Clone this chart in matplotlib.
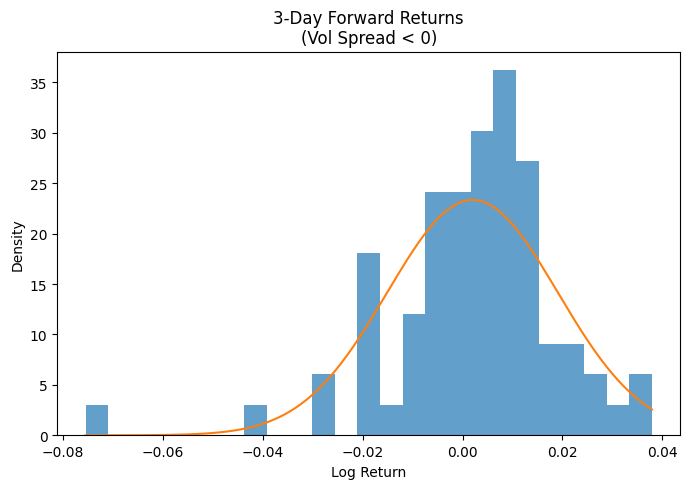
import numpy as np
import matplotlib
matplotlib.use("Agg")
import matplotlib.pyplot as plt

# Histogram bin range and counts (25 equal bins)
bin_low = -0.07546
bin_high = 0.03794
counts = [1, 0, 0, 0, 0, 0, 0, 1, 0, 0, 2, 0, 6, 1, 4, 8, 8, 10, 12, 9, 3, 3, 2, 1, 2]

# Fitted normal parameters
mu = 0.0020
sigma = 0.01709

edges = np.linspace(bin_low, bin_high, len(counts) + 1)
centers = (edges[:-1] + edges[1:]) / 2

fig = plt.figure(figsize=(6.9, 4.89), dpi=100)
ax = fig.add_axes([0.083, 0.1078, 0.903, 0.7845])
ax.hist(centers, bins=edges, weights=counts, density=True, alpha=0.7, color="#1f77b4")
xs = np.linspace(bin_low, bin_high, 200)
pdf = np.exp(-0.5 * ((xs - mu) / sigma) ** 2) / (sigma * np.sqrt(2 * np.pi))
ax.plot(xs, pdf, color="#ff7f0e")
ax.set_title("3-Day Forward Returns\n(Vol Spread < 0)")
ax.set_xlabel("Log Return")
ax.set_ylabel("Density")
fig.savefig("out.png", dpi=100)
